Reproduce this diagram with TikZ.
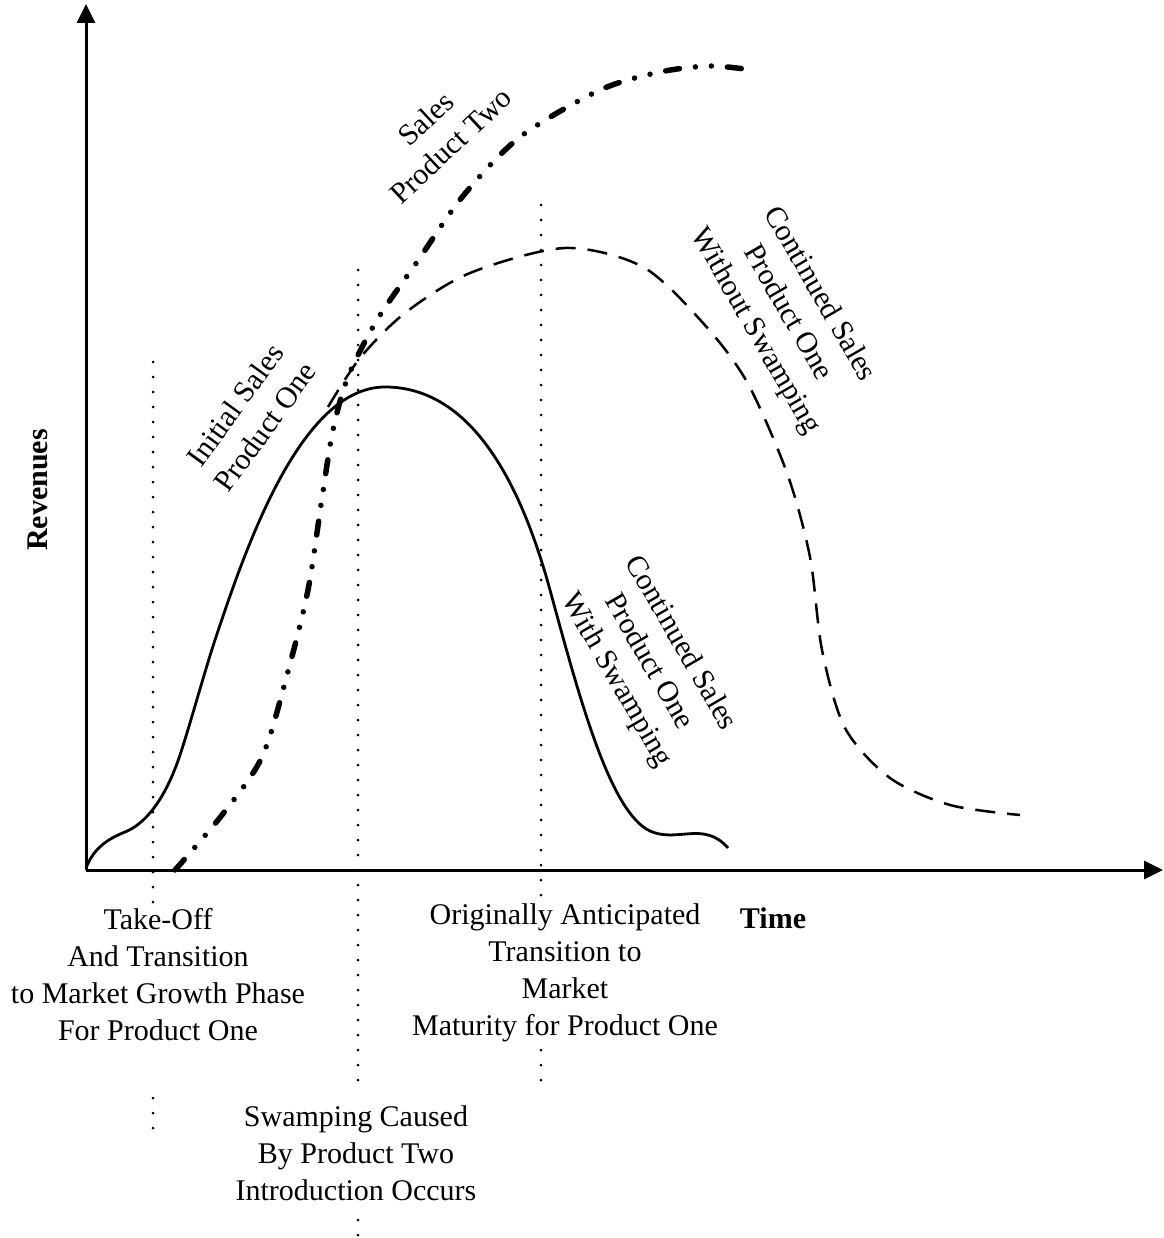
\documentclass[tikz,border=0pt]{standalone}
\usepackage{fontspec}
\setmainfont{Liberation Serif}
\usetikzlibrary{arrows.meta}
\begin{document}
\begin{tikzpicture}[x=1pt,y=-1pt,
  lbl/.style={font=\fontsize{30}{37}\selectfont, align=center, inner sep=0pt},
  axislbl/.style={font=\fontsize{30}{37}\selectfont\bfseries, inner sep=0pt},
  axis/.style={line width=3pt, -{Triangle[length=19pt,width=18pt]}},
  marker/.style={line width=3pt, line cap=round, dash pattern=on 0pt off 15pt},
  withswamp/.style={line width=2.8pt},
  noswamp/.style={line width=2.5pt, dash pattern=on 20pt off 12pt},
  prodtwo/.style={line width=5.5pt, line cap=round,
    dash pattern=on 14pt off 16pt on 0pt off 16pt on 0pt off 16pt}]
\useasboundingbox (0,0) rectangle (1163,1238);

% axes
\coordinate (O) at (86,870);
\coordinate (ytop) at (86,4);
\coordinate (xend) at (1163,870);
\draw[axis] (O) -- (ytop);
\draw[axis] (O) -- (xend);

% phase markers
\draw[marker] (153,362) -- (153,906);
\draw[marker] (153,1098) -- (153,1130);
\draw[marker] (358,270) -- (358,1090);
\draw[marker] (358,1220) -- (358,1238);
\draw[marker] (541,205) -- (541,906);
\draw[marker] (541,1050) -- (541,1082);

% product one with swamping
\draw[withswamp] (86,868)
  .. controls (93,850) and (105,840) .. (125,832)
  .. controls (145,824) and (165,800) .. (180,755)
  .. controls (190,725) and (205,670) .. (215,640)
  .. controls (245,550) and (300,387) .. (385,387)
  .. controls (470,387) and (520,480) .. (550,590)
  .. controls (580,700) and (610,812) .. (650,831)
  .. controls (670,840) and (690,830) .. (708,835)
  .. controls (716,837) and (723,842) .. (728,848);

% product one without swamping
\draw[noswamp] plot[smooth, tension=0.5] coordinates {
  (328,407) (360,358) (405,313) (470,273) (565,248) (643,267) (703,323)
  (747,382) (787,473) (810,557) (822,650) (845,728) (890,778) (950,805)
  (1020,815)};

% product two
\draw[prodtwo] plot[smooth, tension=0.5] coordinates {
  (175,870) (222,815) (262,757) (287,675) (308,590) (322,498) (333,430)
  (348,377) (377,320) (417,262) (463,196) (520,137) (600,90) (660,72)
  (710,66) (752,70)};

% axis titles
\node[axislbl, rotate=90] (rev) at (38,490) {Revenues};
\node[axislbl] (time) at (773,918) {Time};

% curve labels
\node[lbl, rotate=54] (initial) at (250,416) {Initial Sales\\Product One};
\node[lbl, rotate=43] (sales2) at (438,132) {Sales\\Product Two};
\node[lbl, rotate=-60] (without) at (787,313) {Continued Sales\\Product One\\Without Swamping};
\node[lbl, rotate=-60] (with) at (648,662) {Continued Sales\\Product One\\With Swamping};

% phase descriptions
\node[lbl] (takeoff) at (158,975) {Take-Off\\And Transition\\to Market Growth Phase\\For Product One};
\node[lbl] (maturity) at (565,973) {Originally Anticipated\\Transition to\\Market\\Maturity for Product One};
\node[lbl] (swamping) at (356,1153) {Swamping Caused\\By Product Two\\Introduction Occurs};
\end{tikzpicture}
\end{document}
